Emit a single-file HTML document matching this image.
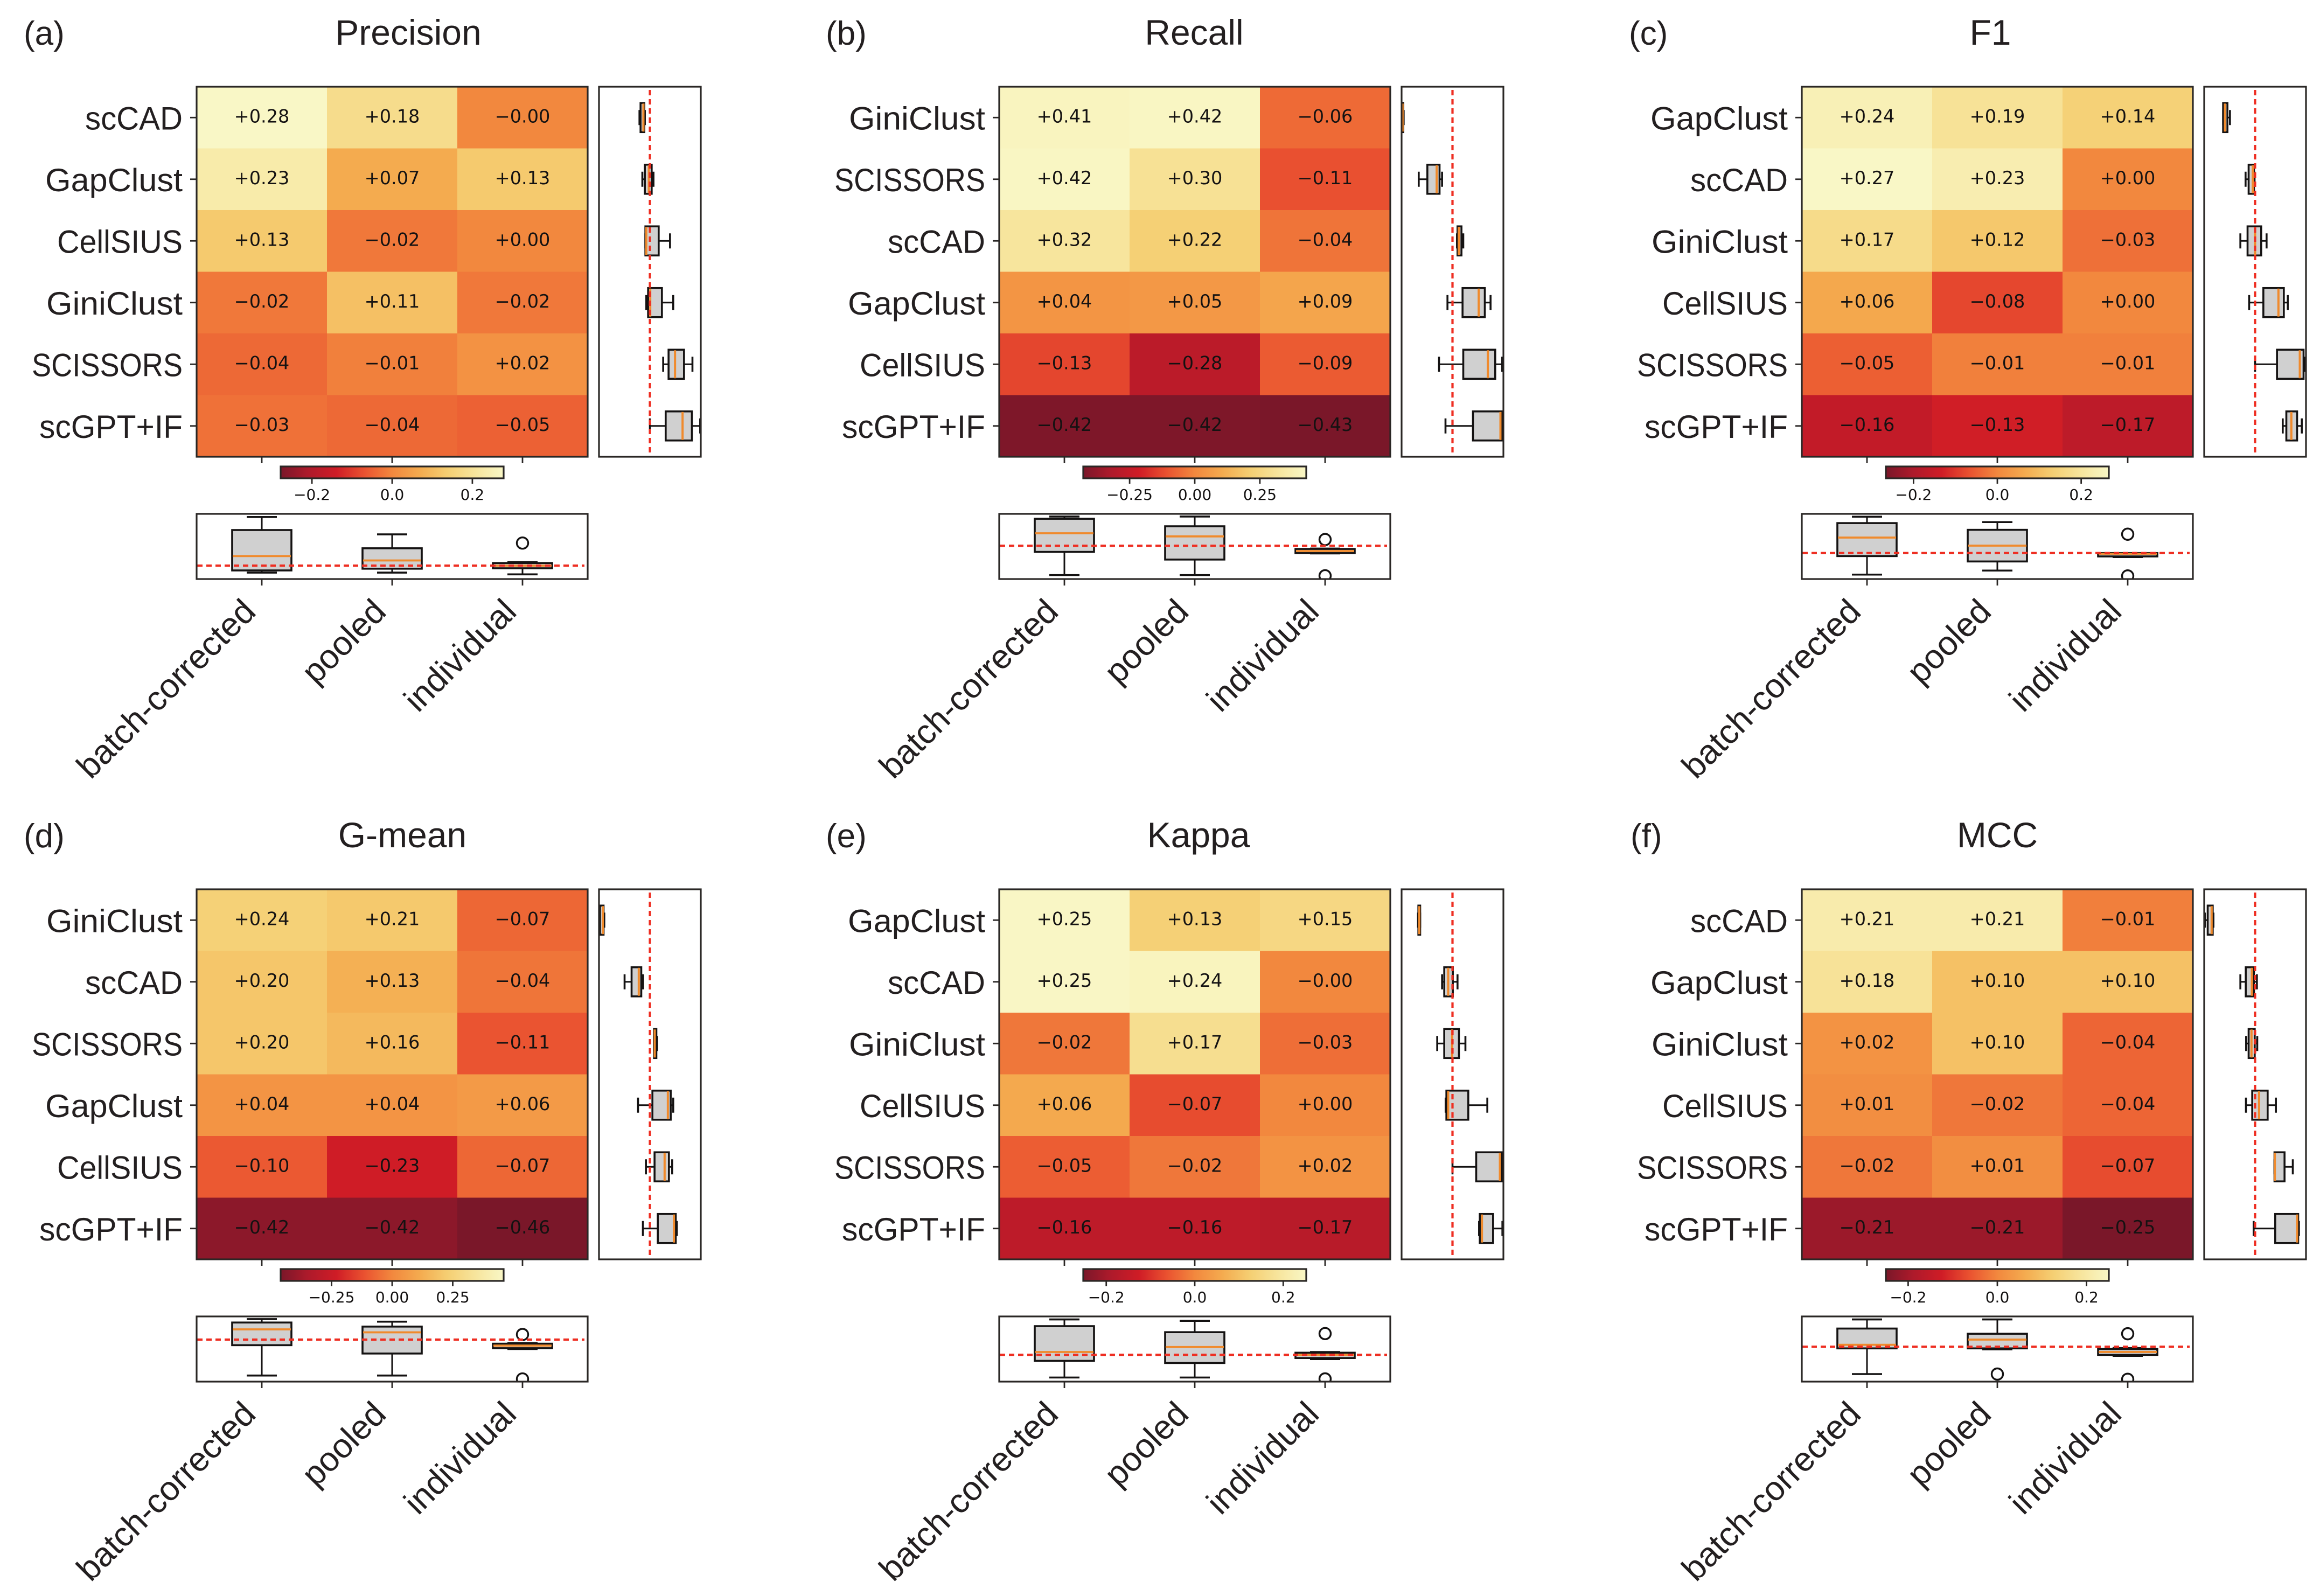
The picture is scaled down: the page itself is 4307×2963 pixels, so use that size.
<!DOCTYPE html>
<html lang="en">
<head>
<meta charset="utf-8">
<title>Precision, Recall, F1, G-mean, Kappa and MCC heatmaps</title>
<style>
html,body{margin:0;padding:0;background:#fff;}
svg{display:block;}
.lab{font-family:"Liberation Sans",sans-serif;fill:#231f20;}
.num{font-family:"DejaVu Sans","Liberation Sans",sans-serif;fill:#141212;}
</style>
</head>
<body>
<svg id="figure" xmlns="http://www.w3.org/2000/svg" width="4307" height="2963" viewBox="0 0 4307 2963">
<rect width="4307" height="2963" fill="#ffffff"></rect>
</svg>
<script>
// ---------- categories ----------
const pipelines = ['batch-corrected', 'pooled', 'individual'];
const panelLetters = ['(a)', '(b)', '(c)', '(d)', '(e)', '(f)'];
const panelTitles = ['Precision', 'Recall', 'F1', 'G-mean', 'Kappa', 'MCC'];

// ---------- row labels ----------
const methodsA = ['scCAD', 'GapClust', 'CellSIUS', 'GiniClust', 'SCISSORS', 'scGPT+IF'];
const methodsB = ['GiniClust', 'SCISSORS', 'scCAD', 'GapClust', 'CellSIUS', 'scGPT+IF'];
const methodsC = ['GapClust', 'scCAD', 'GiniClust', 'CellSIUS', 'SCISSORS', 'scGPT+IF'];
const methodsD = ['GiniClust', 'scCAD', 'SCISSORS', 'GapClust', 'CellSIUS', 'scGPT+IF'];
const methodsE = ['GapClust', 'scCAD', 'GiniClust', 'CellSIUS', 'SCISSORS', 'scGPT+IF'];
const methodsF = ['scCAD', 'GapClust', 'GiniClust', 'CellSIUS', 'SCISSORS', 'scGPT+IF'];

// ---------- heatmap values (rows x pipelines) ----------
const heatA = [[0.28,0.18,-0.00],[0.23,0.07,0.13],[0.13,-0.02,0.00],[-0.02,0.11,-0.02],[-0.04,-0.01,0.02],[-0.03,-0.04,-0.05]];
const heatB = [[0.41,0.42,-0.06],[0.42,0.30,-0.11],[0.32,0.22,-0.04],[0.04,0.05,0.09],[-0.13,-0.28,-0.09],[-0.42,-0.42,-0.43]];
const heatC = [[0.24,0.19,0.14],[0.27,0.23,0.00],[0.17,0.12,-0.03],[0.06,-0.08,0.00],[-0.05,-0.01,-0.01],[-0.16,-0.13,-0.17]];
const heatD = [[0.24,0.21,-0.07],[0.20,0.13,-0.04],[0.20,0.16,-0.11],[0.04,0.04,0.06],[-0.10,-0.23,-0.07],[-0.42,-0.42,-0.46]];
const heatE = [[0.25,0.13,0.15],[0.25,0.24,-0.00],[-0.02,0.17,-0.03],[0.06,-0.07,0.00],[-0.05,-0.02,0.02],[-0.16,-0.16,-0.17]];
const heatF = [[0.21,0.21,-0.01],[0.18,0.10,0.10],[0.02,0.10,-0.04],[0.01,-0.02,-0.04],[-0.02,0.01,-0.07],[-0.21,-0.21,-0.25]];

// ---------- per-row box statistics: [whisker-low, q1, median, q3, whisker-high] ----------
const sideA = [[-0.058,-0.052,-0.036,-0.031,-0.028],[-0.042,-0.028,-0.006,0.010,0.020],[-0.025,-0.025,-0.020,0.049,0.112],[-0.020,-0.010,0.002,0.067,0.130],[0.074,0.104,0.140,0.190,0.237],[0.000,0.088,0.182,0.234,0.280]];
const sideB = [[-0.281,-0.281,-0.278,-0.274,-0.272],[-0.188,-0.140,-0.088,-0.072,-0.058],[0.025,0.028,0.035,0.050,0.060],[-0.028,0.056,0.146,0.180,0.212],[-0.075,0.060,0.197,0.238,0.277],[-0.039,0.114,0.267,0.274,0.278]];
const sideC = [[-0.178,-0.178,-0.168,-0.154,-0.140],[-0.053,-0.036,-0.013,-0.006,-0.003],[-0.082,-0.042,0.000,0.034,0.064],[-0.033,0.046,0.130,0.160,0.182],[0.000,0.122,0.249,0.270,0.277],[0.154,0.174,0.202,0.234,0.260]];
const sideD = [[-0.278,-0.278,-0.262,-0.258,-0.254],[-0.141,-0.102,-0.062,-0.048,-0.038],[0.023,0.023,0.027,0.036,0.040],[-0.066,0.014,0.100,0.116,0.130],[-0.022,0.026,0.082,0.106,0.124],[-0.039,0.044,0.134,0.144,0.150]];
const sideE = [[-0.192,-0.190,-0.185,-0.180,-0.180],[-0.058,-0.046,-0.024,0.002,0.028],[-0.085,-0.046,-0.002,0.036,0.072],[-0.038,-0.034,-0.024,0.088,0.194],[0.000,0.132,0.264,0.274,0.278],[0.148,0.152,0.164,0.226,0.278]];
const sideF = [[-0.280,-0.264,-0.242,-0.236,-0.232],[-0.082,-0.052,-0.018,-0.006,0.010],[-0.050,-0.036,-0.020,-0.002,0.012],[-0.051,-0.016,0.022,0.070,0.116],[0.108,0.108,0.110,0.164,0.210],[-0.008,0.112,0.234,0.240,0.244]];

// ---------- colour limits and colourbar ticks ----------
const colorLimits = [0.278, 0.428, 0.266, 0.46, 0.252, 0.25];
const colorbarTicksA = [-0.2, 0, 0.2];
const colorbarTicksB = [-0.25, 0, 0.25];
const colorbarTicksC = [-0.2, 0, 0.2];
const colorbarTicksD = [-0.25, 0, 0.25];
const colorbarTicksE = [-0.2, 0, 0.2];
const colorbarTicksF = [-0.2, 0, 0.2];
const colorbarDecimals = [1, 2, 1, 2, 1, 1];

// ---------- value range of each panel's lower box plot: [low, high] ----------
const lowerDomains = [[-0.077,0.298],[-0.477,0.458],[-0.193,0.291],[-0.491,0.271],[-0.189,0.271],[-0.268,0.233]];
// value range of every side box plot
const sideDomain = [-0.2835, 0.2835];

const methodSets = [methodsA, methodsB, methodsC, methodsD, methodsE, methodsF];
const heatSets = [heatA, heatB, heatC, heatD, heatE, heatF];
const sideSets = [sideA, sideB, sideC, sideD, sideE, sideF];
const tickSets = [colorbarTicksA, colorbarTicksB, colorbarTicksC, colorbarTicksD, colorbarTicksE, colorbarTicksF];

// ---------- layout ----------
const NS = 'http://www.w3.org/2000/svg';
const svg = document.getElementById('figure');
const colStep = 1490, rowStep = 1490;
const titleCenters = [758, 2217, 3695, 747, 2225, 3708];
const letterLefts = [44, 1533, 3024, 44, 1533, 3027];
const methodLabelFit = { 'scCAD': 181, 'GapClust': 255, 'CellSIUS': 233, 'GiniClust': 253, 'SCISSORS': 280, 'scGPT+IF': 266 };
const INK = '#141212', FRAME = '#2a2725', BOXFILL = '#d0d0d0', MEDIAN = '#f08a2c', REF = '#ee2e22';
const rampStops = ['#7a1729','#ae1a2b','#cf1c26','#ea5230','#f2883e','#f4ab4f','#f5cf73','#f7e59d','#f9f7c6'];

function mk(tag, attrs, parent) {
  const el = document.createElementNS(NS, tag);
  for (const k in attrs) el.setAttribute(k, attrs[k]);
  parent.appendChild(el);
  return el;
}
function hexRgb(h) { return [1,3,5].map(i => parseInt(h.substr(i,2),16)); }
function ramp(t) {
  t = Math.max(0, Math.min(1, t)) * (rampStops.length - 1);
  const i = Math.min(Math.floor(t), rampStops.length - 2), f = t - i;
  const a = hexRgb(rampStops[i]), b = hexRgb(rampStops[i+1]);
  return 'rgb(' + a.map((v,n) => Math.round(v + (b[n]-v)*f)).join(',') + ')';
}
function percentile(sorted, p) {
  const k = (sorted.length - 1) * p, lo = Math.floor(k), hi = Math.ceil(k);
  return sorted[lo] + (sorted[hi] - sorted[lo]) * (k - lo);
}
function boxStats(values) {
  const s = values.slice().sort((a,b) => a-b);
  const q1 = percentile(s,0.25), med = percentile(s,0.5), q3 = percentile(s,0.75), iqr = q3-q1;
  const inside = s.filter(v => v >= q1-1.5*iqr && v <= q3+1.5*iqr);
  return { lo: inside[0], q1, med, q3, hi: inside[inside.length-1], fliers: s.filter(v => v < q1-1.5*iqr || v > q3+1.5*iqr) };
}
function signed(v) {
  const neg = v < 0 || Object.is(v, -0);
  return (neg ? '\u2212' : '+') + Math.abs(v).toFixed(2);
}
function tickText(v, d) { return (v < 0 ? '\u2212' : '') + Math.abs(v).toFixed(d); }

function seg(parent, x1, y1, x2, y2, color, width, dash) {
  const attrs = { x1, y1, x2, y2, stroke: color, 'stroke-width': width };
  if (dash) attrs['stroke-dasharray'] = dash;
  return mk('line', attrs, parent);
}

function drawPanel(p) {
  const ox = (p % 3) * colStep, oy = Math.floor(p / 3) * rowStep;
  const methods = methodSets[p], heat = heatSets[p], side = sideSets[p];
  const vmax = colorLimits[p], ticks = tickSets[p], dec = colorbarDecimals[p];
  const hL = 365 + ox, hR = 1091 + ox, hT = 161 + oy, hB = 848 + oy;
  const sL = 1112 + ox, sR = 1301 + ox;
  const cL = 521 + ox, cR = 935 + ox, cT = 866 + oy, cB = 888 + oy;
  const bT = 954 + oy, bB = 1075 + oy;
  const cellW = (hR-hL)/pipelines.length, cellH = (hB-hT)/methods.length;

  // axis functions
  const heatX = c => hL + cellW * (c + 0.5);
  const heatY = r => hT + cellH * (r + 0.5);
  const sideX = v => sL + (v - sideDomain[0]) / (sideDomain[1] - sideDomain[0]) * (sR - sL);
  const lowerY = v => bB - (v - lowerDomains[p][0]) / (lowerDomains[p][1] - lowerDomains[p][0]) * (bB - bT);
  const barX = v => cL + (v + vmax) / (2 * vmax) * (cR - cL);
  const colorOf = v => ramp((v + vmax) / (2 * vmax));

  const panel = mk('g', {}, svg);
  
  

  const letter = mk('text', { x: letterLefts[p], y: 83 + oy, 'font-size': 62, class: 'lab' }, panel);
  
  
  letter.textContent = panelLetters[p];

  const title = mk('text', { x: titleCenters[p], y: 83 + oy, 'font-size': 66, 'text-anchor': 'middle', class: 'lab' }, panel);
  
  
  title.textContent = panelTitles[p];

  // heatmap cells and printed values
  heat.forEach((row, r) => row.forEach((v, c) => {
    const cell = mk('rect', { x: hL + cellW*c, y: hT + cellH*r, width: cellW + 0.6, height: cellH + 0.6, fill: colorOf(v) }, panel);
    
    
    const txt = mk('text', { x: heatX(c), y: heatY(r) + 9, 'font-size': 33.5, 'text-anchor': 'middle', class: 'num' }, panel);
    
    
    txt.textContent = signed(v);
  }));

  const heatFrame = mk('rect', { x: hL, y: hT, width: hR-hL, height: hB-hT, fill: 'none', stroke: FRAME, 'stroke-width': 3.2 }, panel);
  
  

  methods.forEach((m, r) => {
    const t = seg(panel, hL - 12, heatY(r), hL, heatY(r), FRAME, 2.8);
    
    
    const label = mk('text', { x: hL - 26, y: heatY(r) + 22, 'font-size': 60, 'text-anchor': 'end', textLength: methodLabelFit[m], lengthAdjust: 'spacingAndGlyphs', class: 'lab' }, panel);
    
    
    label.textContent = m;
  });
  pipelines.forEach((_, c) => {
    const t = seg(panel, heatX(c), hB, heatX(c), hB + 12, FRAME, 2.8);
    
    
  });

  // side box plots
  const sideClipId = 'side-clip-' + p;
  const sideDefs = mk('clipPath', { id: sideClipId }, panel);
  mk('rect', { x: sL, y: hT, width: sR-sL, height: hB-hT }, sideDefs);
  const sideGroup = mk('g', { 'clip-path': 'url(#' + sideClipId + ')' }, panel);
  
  
  side.forEach((s, r) => {
    const y = heatY(r), bh = 27, ch = 14;
    const w1 = seg(sideGroup, sideX(s[0]), y, sideX(s[1]), y, INK, 3);
    
    
    const w2 = seg(sideGroup, sideX(s[3]), y, sideX(s[4]), y, INK, 3);
    
    
    const c1 = seg(sideGroup, sideX(s[0]), y-ch, sideX(s[0]), y+ch, INK, 3.6);
    
    
    const c2 = seg(sideGroup, sideX(s[4]), y-ch, sideX(s[4]), y+ch, INK, 3.6);
    
    
    const box = mk('rect', { x: sideX(s[1]), y: y-bh, width: sideX(s[3])-sideX(s[1]), height: 2*bh, fill: BOXFILL, stroke: INK, 'stroke-width': 3.6 }, sideGroup);
    
    
    const med = seg(sideGroup, sideX(s[2]), y-bh+1, sideX(s[2]), y+bh-1, MEDIAN, 4);
    
    
  });
  const sideRef = seg(sideGroup, sideX(0), hT + 6, sideX(0), hB, REF, 4.2, '10 7');
  
  
  const sideFrame = mk('rect', { x: sL, y: hT, width: sR-sL, height: hB-hT, fill: 'none', stroke: FRAME, 'stroke-width': 3.2 }, panel);
  
  

  // colourbar
  const gradId = 'bar-grad-' + p;
  const grad = mk('linearGradient', { id: gradId, x1: 0, x2: 1, y1: 0, y2: 0 }, panel);
  rampStops.forEach((col, i) => {
    mk('stop', { offset: i / (rampStops.length - 1), 'stop-color': col }, grad);
  });
  const bar = mk('rect', { x: cL, y: cT, width: cR-cL, height: cB-cT, fill: 'url(#' + gradId + ')', stroke: FRAME, 'stroke-width': 3.2 }, panel);
  
  
  ticks.forEach(v => {
    const t = seg(panel, barX(v), cB, barX(v), cB + 10, FRAME, 2.8);
    
    
    const tl = mk('text', { x: barX(v), y: 928 + oy, 'font-size': 28, 'text-anchor': 'middle', class: 'num' }, panel);
    
    
    tl.textContent = tickText(v, dec);
  });

  // lower box plots, one per pipeline column
  const lowClipId = 'low-clip-' + p;
  const lowDefs = mk('clipPath', { id: lowClipId }, panel);
  mk('rect', { x: hL, y: bT, width: hR-hL, height: bB-bT }, lowDefs);
  const lowGroup = mk('g', { 'clip-path': 'url(#' + lowClipId + ')' }, panel);
  
  
  pipelines.forEach((name, c) => {
    const st = boxStats(heat.map(row => row[c]));
    const x = heatX(c), bw = 55, cw = 28;
    const w1 = seg(lowGroup, x, lowerY(st.lo), x, lowerY(st.q1), INK, 3);
    
    
    const w2 = seg(lowGroup, x, lowerY(st.q3), x, lowerY(st.hi), INK, 3);
    
    
    const c1 = seg(lowGroup, x-cw, lowerY(st.lo), x+cw, lowerY(st.lo), INK, 3.6);
    
    
    const c2 = seg(lowGroup, x-cw, lowerY(st.hi), x+cw, lowerY(st.hi), INK, 3.6);
    
    
    const box = mk('rect', { x: x-bw, y: lowerY(st.q3), width: 2*bw, height: lowerY(st.q1)-lowerY(st.q3), fill: BOXFILL, stroke: INK, 'stroke-width': 3.6 }, lowGroup);
    
    
    const med = seg(lowGroup, x-bw+1, lowerY(st.med), x+bw-1, lowerY(st.med), MEDIAN, 3.8);
    
    
    st.fliers.forEach(v => {
      const f = mk('circle', { cx: x, cy: lowerY(v), r: 10.5, fill: 'none', stroke: INK, 'stroke-width': 3.4 }, lowGroup);
      
      
    });
  });
  const lowRef = seg(lowGroup, hL + 1, lowerY(0), hR - 6, lowerY(0), REF, 4.2, '10 7');
  
  
  const lowFrame = mk('rect', { x: hL, y: bT, width: hR-hL, height: bB-bT, fill: 'none', stroke: FRAME, 'stroke-width': 3.2 }, panel);
  
  

  pipelines.forEach((name, c) => {
    const x = heatX(c);
    const t = seg(panel, x, bB, x, bB + 12, FRAME, 2.8);
    
    
    const ax = x - 8, ay = 1139 + oy;
    const label = mk('text', { x: ax, y: ay, 'font-size': 63, 'text-anchor': 'end', transform: 'rotate(-45 ' + ax + ' ' + ay + ')', class: 'lab' }, panel);
    
    
    label.textContent = name;
  });
}

panelTitles.forEach((_, p) => drawPanel(p));
</script>
</body>
</html>
